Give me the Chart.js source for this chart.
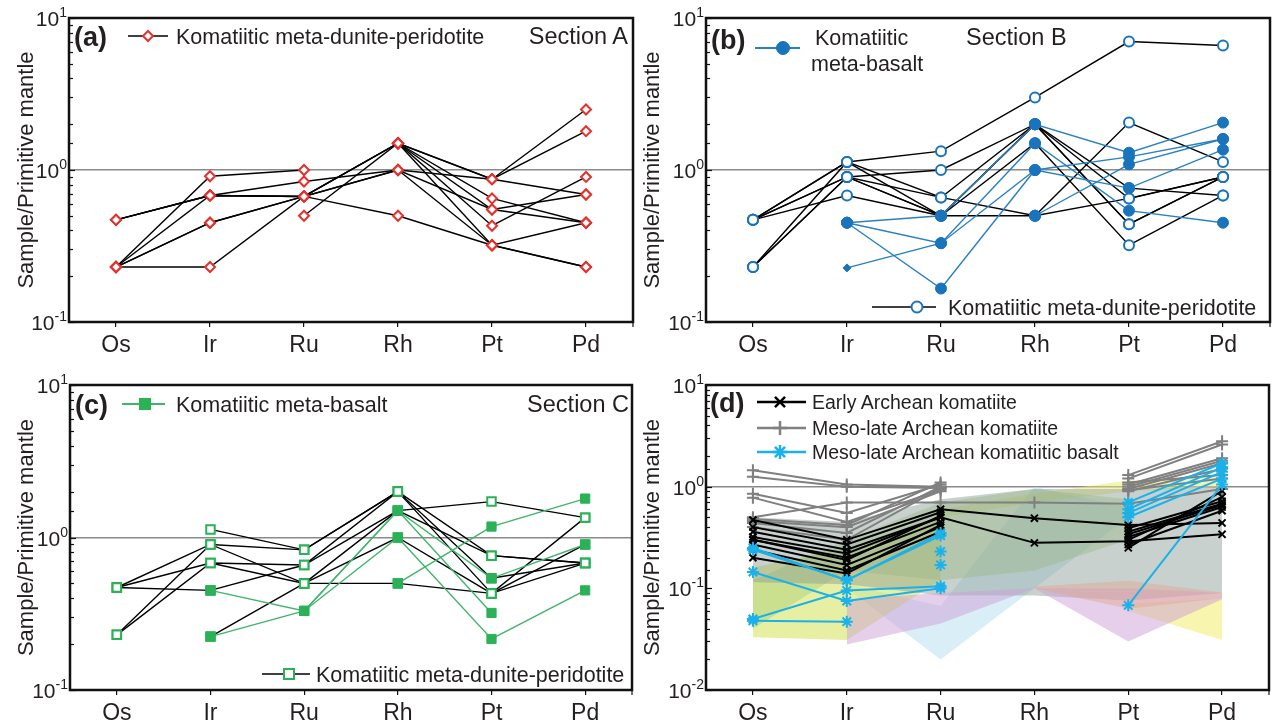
<!DOCTYPE html>
<html>
<head>
<meta charset="utf-8">
<title>PGE primitive-mantle normalised patterns</title>
<script src="https://cdn.jsdelivr.net/npm/chart.js@4.4.1/dist/chart.umd.min.js"></script>
<style>
  body { margin: 0; background: #fff; }
  #page { position: relative; width: 1277px; height: 727px; overflow: hidden; }
  canvas { position: absolute; }
  #notes { position: absolute; left: 0; top: 0; }
</style>
</head>
<body>
<div id="page">
  <canvas id="chartA"></canvas>
  <canvas id="chartB"></canvas>
  <canvas id="chartC"></canvas>
  <canvas id="chartD"></canvas>
  <svg id="notes" width="1277" height="727"></svg>
</div>
<script>
var FONT = '"Liberation Sans", Arial, sans-serif';
var INK = '#231f20';

// x categories and y decade labels (10 with exponent)
var elements = ['Os', 'Ir', 'Ru', 'Rh', 'Pt', 'Pd'];
var decadeValues = [0.01, 0.1, 1, 10];
var decadeExponents = ['-2', '-1', '0', '1'];

// (a) Section A, komatiitic meta-dunite-peridotite
var aDunite = [
  [0.47, 0.68, 0.67, 0.5, 0.32, 0.23],
  [0.47, 0.68, 0.84, 1.0, 0.87, 0.69],
  [0.23, 0.91, 1.0, null, null, null],
  [0.23, 0.68, 0.67, 1.5, 0.65, 0.45],
  [0.23, 0.45, 0.67, 1.5, 0.87, 2.5],
  [0.23, 0.45, 0.67, 1.5, 0.87, 1.8],
  [0.23, 0.23, 0.67, 1.0, 0.55, 0.69],
  [null, null, 0.5, 1.5, 0.43, 0.9],
  [null, null, null, 1.5, 0.32, 0.45],
  [0.47, 0.68, 0.67, 1.0, 0.32, 0.23],
  [null, null, null, 1.5, 0.55, 0.45]
];

// (b) Section B
var bBasalt = [
  [null, 0.45, 0.5, 2.0, 1.3, 2.05],
  [null, 0.45, 0.33, 1.5, 0.54, 0.45],
  [null, 0.45, 0.166, 1.0, 1.22, 1.6],
  [null, 0.227, 0.33, 1.0, 0.76, 1.36],
  [null, null, null, 0.5, 1.09, 1.6]
];
var bDunite = [
  [0.47, 1.13, 1.33, 3.0, 7.0, 6.6],
  [0.47, 0.9, 1.0, 2.0, 0.65, 0.9],
  [0.23, 1.13, 0.66, 2.0, 0.44, 0.9],
  [0.23, 0.9, 0.5, 2.0, 0.76, 0.68],
  [0.47, 0.68, 0.5, 0.5, 2.05, 1.13],
  [0.47, 0.9, 0.66, 0.5, 0.65, 0.9],
  [0.23, 0.9, 0.5, 1.5, 0.32, 0.68],
  [0.47, 1.13, 0.5, 2.0, 0.44, 0.9]
];

// (c) Section C
var cBasalt = [
  [null, 0.45, 0.33, 1.5, 0.54, 0.9],
  [null, 0.224, 0.33, 1.0, 0.216, 0.45],
  [null, null, null, 0.5, 1.18, 1.8],
  [null, null, 0.33, 1.5, 0.32, null]
];
var cDunite = [
  [0.47, 0.9, 0.83, 2.0, 0.76, 0.68],
  [0.47, 0.68, 0.5, 1.5, 1.72, 1.35],
  [0.47, 0.45, 0.66, 2.0, 0.43, 1.35],
  [0.23, 0.9, 0.5, 0.5, 0.43, 0.68],
  [0.23, 0.68, 0.66, 1.5, 0.76, 0.68],
  [null, 1.13, 0.83, 2.0, 0.54, 0.68],
  [null, 0.224, 0.5, 1.0, 0.43, 0.9]
];

// (d) literature komatiites
var dEarly = [
  [0.47, 0.3, 0.6, 0.49, 0.42, 0.44],
  [0.32, 0.22, 0.5, 0.28, 0.29, 0.34],
  [0.4, 0.27, 0.56, null, 0.36, 0.68],
  [0.36, 0.24, 0.5, null, 0.32, 0.63],
  [0.3, 0.2, 0.45, null, 0.3, 0.79],
  [0.27, 0.17, 0.4, null, 0.27, 0.58],
  [0.24, 0.15, 0.36, null, 0.25, 0.91],
  [0.2, 0.14, 0.42, null, 0.39, 0.72],
  [0.3, 0.19, 0.52, null, 0.34, 0.66]
];
var dMesoKom = [
  [1.45, 1.05, 1.0, null, 1.3, 2.8],
  [1.25, 1.0, 0.97, null, 1.2, 2.6],
  [0.85, 0.55, 1.05, null, 1.05, 1.9],
  [0.78, 0.45, 0.93, null, 1.0, 1.8],
  [0.5, 0.7, 0.7, 0.7, 0.68, 0.95],
  [0.48, 0.42, 1.1, null, 0.95, 1.7],
  [0.46, 0.4, 0.9, null, 0.9, 1.5],
  [0.44, 0.35, 1.0, null, 1.1, 1.3],
  [0.4, 0.3, 0.97, null, 0.92, 1.2]
];
var dMesoBas = [
  [0.25, 0.12, 0.35, null, 0.7, 1.7],
  [0.24, 0.12, 0.33, null, 0.6, 1.55],
  [0.145, 0.075, 0.1, null, 0.55, 1.4],
  [0.05, 0.095, 0.105, null, 0.5, 1.2],
  [0.048, 0.047, null, null, 0.068, 1.05],
  [null, null, 0.23, null, null, null],
  [null, null, 0.17, null, null, null]
];
// shaded reference fields in (d): lower and upper bounds
var fieldGrayLow = [0.115, 0.11, 0.085, 0.085, 0.076, 0.09];
var fieldGrayHigh = [0.5, 0.45, 0.75, 0.95, 0.95, 1.0];
var fieldYellowLow = [0.033, 0.031, 0.12, null, null, null];
var fieldYellowHigh = [0.16, 0.25, 0.5, null, null, null];
var fieldYellowTopLow = [null, null, 0.5, 0.7, 0.9, 1.0];
var fieldYellowTopHigh = [null, null, 0.6, 0.85, 1.15, 1.25];
var fieldYellowFootLow = [null, null, null, null, 0.06, 0.031];
var fieldYellowFootHigh = [null, null, null, null, 0.07, 0.08];
var fieldGreenLow = [0.04, 0.15, 0.12, 0.15, 0.3, null];
var fieldGreenHigh = [0.12, 0.3, 0.7, 0.95, 0.75, null];
var fieldBlueLow = [null, 0.1, 0.02, 0.1, 0.5, null];
var fieldBlueHigh = [null, 0.11, 0.067, 1.0, 0.62, null];
var fieldPurpleLow = [null, 0.028, 0.045, 0.1, 0.03, 0.078];
var fieldPurpleHigh = [null, 0.078, 0.09, 0.1, 0.1, 0.09];
var fieldSalmonLow = [null, null, null, 0.1, 0.063, 0.08];
var fieldSalmonHigh = [null, null, null, 0.104, 0.119, 0.091];

function isDecade(v) {
  var l = Math.log10(v);
  return Math.abs(l - Math.round(l)) < 1e-6;
}

// box frame, inward log ticks and 10^n labels on the left axis
var frame = {
  id: 'frame',
  afterDraw: function(chart) {
    var a = chart.chartArea, ctx = chart.ctx, ys = chart.scales.y;
    ctx.save();
    ctx.strokeStyle = '#111';
    ctx.lineWidth = 1.2;
    ys.ticks.forEach(function(t) {
      var py = Math.round(ys.getPixelForValue(t.value)) + 0.5;
      ctx.beginPath();
      ctx.moveTo(a.left, py);
      ctx.lineTo(a.left + (isDecade(t.value) ? 6 : 4), py);
      ctx.stroke();
    });
    ctx.beginPath();
    ctx.moveTo(a.right, a.bottom);
    ctx.lineTo(a.right, a.bottom + 5);
    ctx.stroke();
    ctx.lineWidth = 2.5;
    ctx.strokeRect(a.left, a.top, a.right - a.left, a.bottom - a.top);

    ctx.fillStyle = INK;
    ctx.textAlign = 'left';
    ctx.textBaseline = 'alphabetic';
    decadeValues.forEach(function(v, i) {
      if (v < ys.min * 0.999 || v > ys.max * 1.001) return;
      var py = ys.getPixelForValue(v);
      var ex = decadeExponents[i];
      ctx.font = '14px ' + FONT;
      var w2 = ctx.measureText(ex).width;
      ctx.font = '21px ' + FONT;
      var w1 = ctx.measureText('10').width;
      var right = a.left - 2;
      ctx.fillText('10', right - w2 - w1, py + 8);
      ctx.font = '14px ' + FONT;
      ctx.fillText(ex, right - w2, py - 1);
    });
    ctx.restore();
  }
};

function series(list, o) {
  return list.map(function(vals) {
    return {
      data: vals,
      borderColor: o.line,
      borderWidth: o.lw || 1.4,
      pointStyle: o.shape,
      pointRadius: o.r,
      pointBorderColor: o.stroke,
      pointBackgroundColor: o.fill,
      pointBorderWidth: o.bw || 2,
      fill: false,
      tension: 0,
      spanGaps: false,
      order: o.order || 0
    };
  });
}

function field(lo, hi, color) {
  return [
    {data: lo, borderWidth: 0, borderColor: 'rgba(0,0,0,0)', pointRadius: 0, fill: false, order: 10},
    {data: hi, borderWidth: 0, borderColor: 'rgba(0,0,0,0)', pointRadius: 0, fill: '-1', backgroundColor: color, order: 10}
  ];
}

function makeChart(id, box, yMin, datasets, titlePad) {
  var el = document.getElementById(id);
  el.width = box.w;
  el.height = box.h;
  el.style.left = box.left + 'px';
  el.style.top = box.top + 'px';
  return new Chart(el, {
    type: 'line',
    data: {labels: elements, datasets: datasets},
    options: {
      responsive: false,
      animation: false,
      events: [],
      layout: {padding: {left: 0, top: box.plotTop - box.top, right: box.left + box.w - box.plotRight, bottom: 0}},
      plugins: {legend: {display: false}, tooltip: {enabled: false}},
      scales: {
        x: {
          offset: true,
          border: {display: false},
          grid: {drawOnChartArea: false, tickLength: 5, color: '#111', lineWidth: 1.2},
          ticks: {font: {family: FONT, size: 23}, color: INK, padding: 5, maxRotation: 0, autoSkip: false},
          afterFit: function(s) { s.height = box.top + box.h - box.plotBottom; }
        },
        y: {
          type: 'logarithmic',
          min: yMin,
          max: 10,
          border: {display: false},
          grid: {
            drawTicks: false,
            lineWidth: 1.5,
            color: function(c) { return c.tick && Math.abs(c.tick.value - 1) < 1e-9 ? '#8a8a8a' : 'rgba(0,0,0,0)'; }
          },
          ticks: {autoSkip: false, callback: function() { return ''; }},
          title: {display: true, text: 'Sample/Primitive mantle', color: INK, font: {family: FONT, size: 22}, padding: {top: titlePad, bottom: 0}},
          afterFit: function(s) { s.width = box.plotLeft - box.left; }
        }
      }
    },
    plugins: [frame]
  });
}

var boxA = {left: 0, top: 0, w: 640, h: 365, plotLeft: 69, plotRight: 635, plotTop: 18, plotBottom: 322};
var boxB = {left: 640, top: 0, w: 637, h: 365, plotLeft: 706, plotRight: 1271, plotTop: 18, plotBottom: 322};
var boxC = {left: 0, top: 365, w: 640, h: 362, plotLeft: 70, plotRight: 635, plotTop: 385, plotBottom: 690};
var boxD = {left: 640, top: 365, w: 637, h: 362, plotLeft: 706, plotRight: 1271, plotTop: 385, plotBottom: 690};

var RED = '#e5312b', BLUE = '#1a74bb', BLUE_LINE = '#2a80c2', GREEN = '#2bb157', GREEN_LINE = '#3fb56c';
var GRAY = '#808080', CYAN = '#1bb1e9';

// (a)
makeChart('chartA', boxA, 0.1, series(aDunite, {line: '#000', shape: 'rectRot', r: 5, stroke: RED, fill: '#fff'}), 14);

// (b)
var bDs = series(bBasalt, {line: BLUE_LINE, shape: 'circle', r: 5.5, stroke: BLUE, fill: BLUE, bw: 1})
  .concat(series(bDunite, {line: '#000', shape: 'circle', r: 5, stroke: BLUE, fill: '#fff'}));
bDs[3].pointStyle = ['circle', 'rectRot', 'circle', 'circle', 'circle', 'circle'];
bDs[3].pointRadius = [5.5, 4, 5.5, 5.5, 5.5, 5.5];
makeChart('chartB', boxB, 0.1, bDs, 0);

// (c)
var cDs = series(cBasalt, {line: GREEN_LINE, shape: 'rect', r: 6.5, stroke: GREEN, fill: GREEN, bw: 1})
  .concat(series(cDunite, {line: '#000', shape: 'rect', r: 6, stroke: GREEN, fill: '#fff'}));
makeChart('chartC', boxC, 0.1, cDs, 14);

// (d)
var dDs = series(dMesoBas, {line: CYAN, lw: 2, shape: 'star', r: 6, stroke: CYAN, fill: CYAN, bw: 2})
  .concat(series(dEarly, {line: '#000', lw: 2, shape: 'crossRot', r: 5, stroke: '#000', fill: '#000', bw: 2}))
  .concat(series(dMesoKom, {line: GRAY, lw: 2, shape: 'cross', r: 6, stroke: GRAY, fill: GRAY, bw: 2}))
  .concat(field(fieldSalmonLow, fieldSalmonHigh, 'rgba(226,165,145,0.45)'))
  .concat(field(fieldPurpleLow, fieldPurpleHigh, 'rgba(205,160,215,0.5)'))
  .concat(field(fieldGrayLow, fieldGrayHigh, 'rgba(135,152,146,0.45)'))
  .concat(field(fieldGreenLow, fieldGreenHigh, 'rgba(165,205,120,0.42)'))
  .concat(field(fieldYellowLow, fieldYellowHigh, 'rgba(215,228,100,0.6)'))
  .concat(field(fieldYellowTopLow, fieldYellowTopHigh, 'rgba(232,232,110,0.5)'))
  .concat(field(fieldYellowFootLow, fieldYellowFootHigh, 'rgba(242,238,120,0.6)'))
  .concat(field(fieldBlueLow, fieldBlueHigh, 'rgba(180,222,238,0.5)'));
makeChart('chartD', boxD, 0.01, dDs, 0);

// panel letters, section names and keys
var svg = document.getElementById('notes');
var NS = 'http://www.w3.org/2000/svg';
function put(tag, attrs, str) {
  var el = document.createElementNS(NS, tag);
  for (var k in attrs) el.setAttribute(k, attrs[k]);
  if (str) el.textContent = str;
  svg.appendChild(el);
  return el;
}
function label(str, x, y, size, anchor, bold) {
  put('text', {x: x, y: y, 'font-size': size, 'font-family': "'Liberation Sans', Arial, sans-serif",
    'font-weight': bold ? 'bold' : 'normal', 'text-anchor': anchor || 'start', fill: INK}, str);
}
function keyLine(x1, x2, y, color, w) {
  put('line', {x1: x1, y1: y, x2: x2, y2: y, stroke: color, 'stroke-width': w});
}
function mark(shape, x, y, r, stroke, fill, w) {
  var sw = w || 2;
  if (shape === 'diamond') put('polygon', {points: [x, y - r, x + r, y, x, y + r, x - r, y].join(' '), stroke: stroke, fill: fill, 'stroke-width': sw});
  if (shape === 'circle') put('circle', {cx: x, cy: y, r: r, stroke: stroke, fill: fill, 'stroke-width': sw});
  if (shape === 'square') put('rect', {x: x - r, y: y - r, width: 2 * r, height: 2 * r, stroke: stroke, fill: fill, 'stroke-width': sw});
  if (shape === 'x' || shape === 'star') {
    var d = r * 0.72;
    put('line', {x1: x - d, y1: y - d, x2: x + d, y2: y + d, stroke: stroke, 'stroke-width': sw});
    put('line', {x1: x - d, y1: y + d, x2: x + d, y2: y - d, stroke: stroke, 'stroke-width': sw});
  }
  if (shape === 'plus' || shape === 'star') {
    put('line', {x1: x - r, y1: y, x2: x + r, y2: y, stroke: stroke, 'stroke-width': sw});
    put('line', {x1: x, y1: y - r, x2: x, y2: y + r, stroke: stroke, 'stroke-width': sw});
  }
}

// (a)
label('(a)', 74, 46, 27, 'start', true);
keyLine(128, 168, 36, '#000', 1.5);
mark('diamond', 148, 36, 5, RED, '#fff');
label('Komatiitic meta-dunite-peridotite', 176, 44, 21.5);
label('Section A', 628, 44, 23.5, 'end');

// (b)
label('(b)', 711, 49, 27, 'start', true);
keyLine(755, 800, 48, BLUE_LINE, 2);
mark('circle', 783, 48, 6.5, BLUE, BLUE, 1);
label('Komatiitic', 815, 45, 21.5);
label('meta-basalt', 811, 71, 21.5);
label('Section B', 966, 45, 23.5);
keyLine(872, 936, 307, '#000', 1.5);
mark('circle', 917, 307, 5.5, BLUE, '#fff');
label('Komatiitic meta-dunite-peridotite', 948, 315, 21.5);

// (c)
label('(c)', 75, 414, 27, 'start', true);
keyLine(122, 165, 404, GREEN_LINE, 2);
mark('square', 145, 404, 5.5, GREEN, GREEN, 1);
label('Komatiitic meta-basalt', 176, 412, 21.5);
label('Section C', 629, 412, 23.5, 'end');
keyLine(262, 310, 674, '#000', 1.5);
mark('square', 289, 674, 5, GREEN, '#fff');
label('Komatiitic meta-dunite-peridotite', 316, 682, 21.5);

// (d)
label('(d)', 710, 412, 27, 'start', true);
keyLine(757, 806, 402, '#000', 2.5);
mark('x', 780, 402, 7, '#000', 'none', 2.5);
label('Early Archean komatiite', 812, 409, 19.5);
keyLine(757, 806, 428, GRAY, 2.5);
mark('plus', 780, 428, 7, GRAY, 'none', 2.5);
label('Meso-late Archean komatiite', 812, 435, 19.5);
keyLine(757, 806, 452, CYAN, 2.5);
mark('star', 780, 452, 7, CYAN, 'none', 2.5);
label('Meso-late Archean komatiitic basalt', 812, 459, 19.5);
</script>
</body>
</html>
